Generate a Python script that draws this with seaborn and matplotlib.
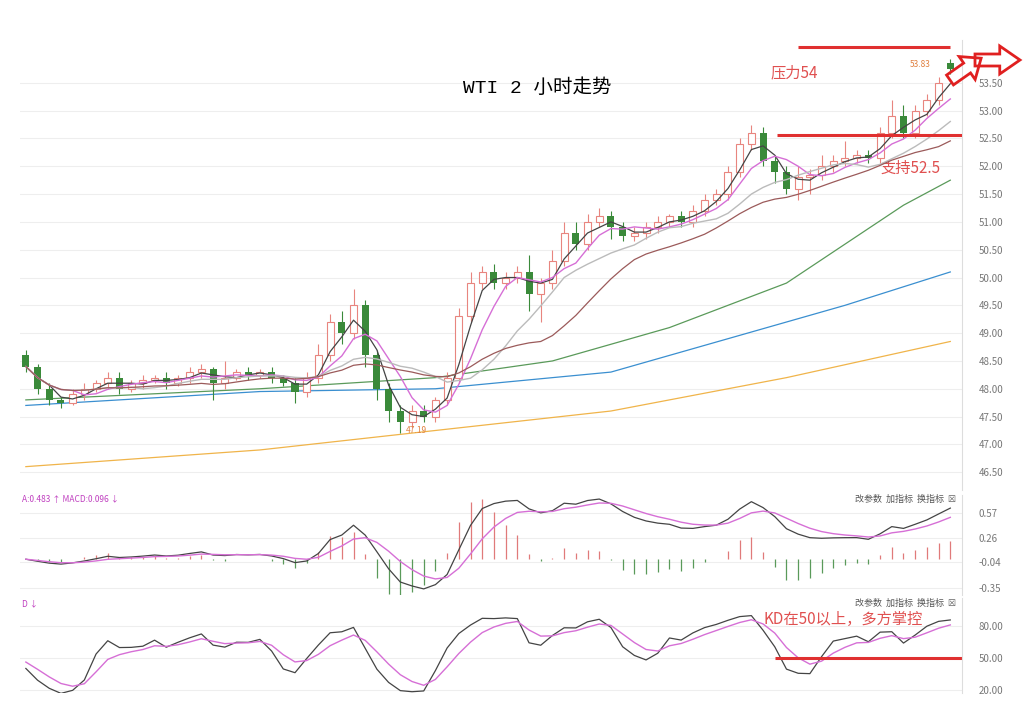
import numpy as np
import pandas as pd
import matplotlib
matplotlib.use('Agg')
import matplotlib.pyplot as plt
from matplotlib.patches import Polygon
import seaborn as sns

plt.rcParams['font.family'] = ['Noto Sans CJK SC', 'DejaVu Sans']

# 2-hour WTI candles
closes = [48.4, 48.0, 47.8, 47.75, 47.9, 48.0, 48.1, 48.2, 48.0, 48.1, 48.15, 48.2, 48.1, 48.2,
          48.3, 48.35, 48.1, 48.2, 48.3, 48.25, 48.3, 48.2, 48.1, 47.95, 48.2,
          48.6, 49.2, 49.0, 49.5, 48.6, 48.0, 47.6, 47.4, 47.6, 47.5, 47.8, 48.2,
          49.3, 49.9, 50.1, 49.9, 50.0, 50.1, 49.7, 49.9, 50.3, 50.8, 50.6, 51.0, 51.1, 50.9,
          50.75, 50.8, 50.9, 51.0, 51.1, 51.0, 51.2, 51.4, 51.5, 51.9, 52.4, 52.6,
          52.1, 51.9, 51.6, 51.8, 51.85, 52.0, 52.1, 52.15, 52.2, 52.15,
          52.6, 52.9, 52.6, 53.0, 53.2, 53.5, 53.75]
opens = [48.6, 48.4, 48.0, 47.8, 47.75, 47.9, 48.0, 48.1, 48.2, 48.0, 48.1, 48.15, 48.2, 48.1,
         48.2, 48.3, 48.35, 48.1, 48.2, 48.3, 48.25, 48.3, 48.2, 48.1, 47.95,
         48.2, 48.6, 49.2, 49.0, 49.5, 48.6, 48.0, 47.6, 47.4, 47.6, 47.5, 47.8,
         48.2, 49.3, 49.9, 50.1, 49.9, 50.0, 50.1, 49.7, 49.9, 50.3, 50.8, 50.6, 51.0, 51.1,
         50.9, 50.75, 50.8, 50.9, 51.0, 51.1, 51.0, 51.2, 51.4, 51.5, 51.9, 52.4,
         52.6, 52.1, 51.9, 51.6, 51.8, 51.85, 52.0, 52.1, 52.15, 52.2,
         52.15, 52.6, 52.9, 52.6, 53.0, 53.2, 53.85]
wick_up = [0.1, 0.05, 0.1, 0.05, 0.1, 0.1, 0.05, 0.1, 0.1, 0.05, 0.1, 0.05, 0.1, 0.05,
           0.1, 0.1, 0.05, 0.3, 0.05, 0.1, 0.05, 0.1, 0.05, 0.1, 0.1,
           0.2, 0.15, 0.2, 0.3, 0.1, 0.1, 0.1, 0.1, 0.1, 0.1, 0.05, 0.1,
           0.15, 0.2, 0.1, 0.15, 0.1, 0.1, 0.3, 0.1, 0.2, 0.2, 0.2, 0.15, 0.15, 0.1,
           0.1, 0.1, 0.1, 0.1, 0.05, 0.1, 0.1, 0.1, 0.1, 0.1, 0.1, 0.15,
           0.1, 0.1, 0.1, 0.2, 0.1, 0.2, 0.1, 0.3, 0.1, 0.1,
           0.1, 0.3, 0.2, 0.1, 0.1, 0.1, 0.08]
wick_dn = [0.1, 0.1, 0.1, 0.1, 0.05, 0.1, 0.05, 0.1, 0.1, 0.05, 0.1, 0.05, 0.1, 0.05,
           0.1, 0.1, 0.3, 0.1, 0.05, 0.1, 0.05, 0.1, 0.05, 0.2, 0.1,
           0.1, 0.1, 0.2, 0.1, 0.2, 0.2, 0.2, 0.2, 0.1, 0.1, 0.1, 0.1,
           0.1, 0.1, 0.1, 0.1, 0.1, 0.1, 0.3, 0.5, 0.1, 0.1, 0.1, 0.1, 0.1, 0.2,
           0.1, 0.1, 0.1, 0.1, 0.1, 0.1, 0.1, 0.1, 0.1, 0.1, 0.1, 0.1,
           0.1, 0.2, 0.1, 0.2, 0.3, 0.1, 0.1, 0.1, 0.1, 0.1,
           0.1, 0.1, 0.1, 0.1, 0.1, 0.1, 0.1]

# long moving averages (their history starts before the window), key points
ma_green_x = [0, 20, 35, 45, 55, 65, 75, 79]
ma_green_y = [47.8, 48.0, 48.2, 48.5, 49.1, 49.9, 51.3, 51.75]
ma_blue_x = [0, 20, 35, 50, 60, 70, 79]
ma_blue_y = [47.7, 47.95, 48.0, 48.3, 48.9, 49.5, 50.1]
ma_yellow_x = [0, 20, 35, 50, 65, 79]
ma_yellow_y = [46.6, 46.9, 47.25, 47.6, 48.2, 48.85]

price_ticks = [46.5, 47.0, 47.5, 48.0, 48.5, 49.0, 49.5, 50.0, 50.5, 51.0, 51.5, 52.0, 52.5, 53.0, 53.5]
macd_ticks = [0.57, 0.26, -0.04, -0.35]
kd_ticks = [80, 50, 20]

df = pd.DataFrame({'i': np.arange(len(closes)), 'open': opens, 'close': closes})
df['high'] = np.maximum(df['open'], df['close']) + np.array(wick_up)
df['low'] = np.minimum(df['open'], df['close']) - np.array(wick_dn)
# windows shortened since each drawn candle stands for about two of the source's
for name, n in (('ma5', 3), ('ma10', 5), ('ma20', 10), ('ma30', 16)):
    df[name] = df['close'].rolling(n, min_periods=1).mean()

# MACD
ema_fast = df['close'].ewm(span=6).mean()
ema_slow = df['close'].ewm(span=13).mean()
df['dif'] = 1.4 * (ema_fast - ema_slow)
df['dea'] = df['dif'].ewm(span=5).mean()
df['hist'] = 2 * (df['dif'] - df['dea'])

# KD
lo9 = df['low'].rolling(5, min_periods=1).min()
hi9 = df['high'].rolling(5, min_periods=1).max()
rsv = (df['close'] - lo9) / (hi9 - lo9) * 100
k = [50.0]
for v in rsv:
    k.append(0.6 * k[-1] + 0.4 * v)
df['k'] = k[1:]
d = [50.0]
for v in df['k']:
    d.append(0.6 * d[-1] + 0.4 * v)
df['d'] = d[1:]

W, H = 1024, 702
fig = plt.figure(figsize=(W / 100, H / 100), dpi=100)
L, R = 20 / W, 962 / W
ax = fig.add_axes([L, 1 - 490 / H, R - L, 450 / H])
ax2 = fig.add_axes([L, 1 - 595 / H, R - L, 100 / H])
ax3 = fig.add_axes([L, 1 - 693 / H, R - L, 95 / H])

up_edge = '#e8857f'
down_col = '#3a8a3a'
for axx in (ax, ax2, ax3):
    axx.set_xlim(-0.5, 80)
    axx.yaxis.tick_right()
    axx.tick_params(axis='y', length=0, labelsize=7, labelcolor='#777777', pad=12)
    axx.tick_params(axis='x', length=0, labelbottom=False)
    axx.grid(axis='y', color='#eeeeee', lw=0.8)
    axx.set_axisbelow(True)
    for s in ('top', 'left', 'bottom'):
        axx.spines[s].set_visible(False)
    axx.spines['right'].set_color('#dddddd')

# candles
for r in df.itertuples():
    if r.close >= r.open:
        ax.vlines(r.i, r.low, r.high, color=up_edge, lw=0.8, zorder=3)
        ax.bar(r.i, max(r.close - r.open, 0.02), bottom=r.open, width=0.6,
               facecolor='white', edgecolor=up_edge, lw=0.8, zorder=4)
    else:
        ax.vlines(r.i, r.low, r.high, color=down_col, lw=0.8, zorder=3)
        ax.bar(r.i, r.open - r.close, bottom=r.close, width=0.6,
               color=down_col, zorder=4)

sns.lineplot(data=df, x='i', y='ma5', color='#444444', lw=0.9, ax=ax, zorder=5)
sns.lineplot(data=df, x='i', y='ma10', color='#d66fd6', lw=1.0, ax=ax, zorder=5)
sns.lineplot(data=df, x='i', y='ma20', color='#bbbbbb', lw=1.0, ax=ax, zorder=5)
sns.lineplot(data=df, x='i', y='ma30', color='#9b5a5a', lw=0.9, ax=ax, zorder=5)
sns.lineplot(x=ma_green_x, y=ma_green_y, color='#5a9a5a', lw=0.9, ax=ax)
sns.lineplot(x=ma_blue_x, y=ma_blue_y, color='#3a8fd0', lw=0.9, ax=ax)
sns.lineplot(x=ma_yellow_x, y=ma_yellow_y, color='#f0b44a', lw=0.9, ax=ax)

ax.set_ylim(46.18, 54.27)
ax.set_yticks(price_ticks)
ax.set_yticklabels([f'{t:.2f}' for t in price_ticks])
ax.set_xlabel('')
ax.set_ylabel('')

ax.text(43.7, 53.41, 'WTI 2 小时走势', fontsize=14, ha='center', va='center',
        family=['Liberation Mono', 'Noto Sans CJK SC'])
ax.hlines(54.15, 66, 79, color='#e03030', lw=2.2, zorder=6)
ax.hlines(52.56, 64.2, 80, color='#e03030', lw=2.2, zorder=6)
ax.text(63.6, 53.68, '压力54', color='#e05050', fontsize=11, va='center')
ax.text(73.0, 51.97, '支持52.5', color='#e05050', fontsize=11, va='center')
ax.text(32.5, 47.25, '47.19', color='#e08040', fontsize=6, va='center')
ax.text(75.5, 53.83, '53.83', color='#e08040', fontsize=6, va='center')

# MACD
hc = ['#e07a7a' if h >= 0 else '#5a9a5a' for h in df['hist']]
ax2.vlines(df['i'], 0, df['hist'], colors=hc, lw=0.9)
sns.lineplot(data=df, x='i', y='dif', color='#444444', lw=0.9, ax=ax2)
sns.lineplot(data=df, x='i', y='dea', color='#d66fd6', lw=1.0, ax=ax2)
ax2.set_ylim(-0.44, 0.79)
ax2.set_yticks(macd_ticks)
ax2.set_yticklabels(['0.57', '0.26', '-0.04', '-0.35'])
ax2.set_xlabel('')
ax2.set_ylabel('')
ax2.text(-0.3, 0.74, 'A:0.483 ↑ MACD:0.096 ↓', fontsize=6, color='#c040c0', va='center')
ax2.text(79.5, 0.74, '改参数  加指标  换指标  ☒', fontsize=6.5, color='#555555', ha='right', va='center')

# KD
sns.lineplot(data=df, x='i', y='k', color='#444444', lw=0.9, ax=ax3)
sns.lineplot(data=df, x='i', y='d', color='#d66fd6', lw=1.0, ax=ax3)
ax3.set_ylim(17, 106)
ax3.set_yticks(kd_ticks)
ax3.set_yticklabels([f'{t:.2f}' for t in kd_ticks])
ax3.set_xlabel('')
ax3.set_ylabel('')
ax3.hlines(50, 64, 80, color='#e03030', lw=2.2)
ax3.text(63, 86, 'KD在50以上，多方掌控', color='#e05050', fontsize=11, va='center')
ax3.text(-0.3, 101, 'D ↓', fontsize=6, color='#c040c0', va='center')
ax3.text(79.5, 101, '改参数  加指标  换指标  ☒', fontsize=6.5, color='#555555', ha='right', va='center')

# hollow red arrows at the top right
def arrow(x0, y0, length, angle):
    pts = np.array([[0, -6], [length * 0.55, -6], [length * 0.55, -14], [length, 0],
                    [length * 0.55, 14], [length * 0.55, 6], [0, 6]], dtype=float)
    c, s = np.cos(angle), np.sin(angle)
    pts = pts @ np.array([[c, s], [-s, c]])
    pts[:, 0] += x0
    pts[:, 1] += y0
    pts[:, 0] /= W
    pts[:, 1] = 1 - pts[:, 1] / H
    fig.patches.append(Polygon(pts, closed=True, fill=False, edgecolor='#e02020',
                               lw=2, transform=fig.transFigure))

arrow(950, 80, 38, np.radians(-35))
arrow(975, 60, 45, 0)

fig.savefig('out.png', dpi=100, facecolor='white')
